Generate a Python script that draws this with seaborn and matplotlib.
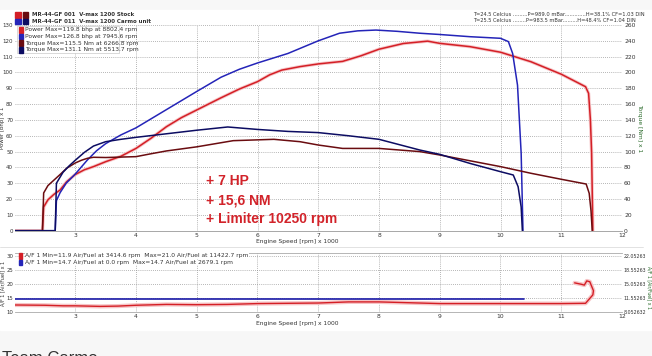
import pandas as pd
import numpy as np
import seaborn as sns
import matplotlib.pyplot as plt
from matplotlib.patches import Rectangle

# dyno runs (rpm x 1000)
stock_pw_rpm = [2.0, 2.46, 2.48, 2.55, 2.65, 2.75, 2.86, 3.0, 3.15, 3.3, 3.5, 3.75, 4.0, 4.25, 4.5, 4.75, 5.0, 5.4, 5.7, 6.0, 6.2, 6.4, 6.7, 7.0, 7.4, 7.7, 8.0, 8.4, 8.8, 9.0, 9.5, 10.0, 10.5, 11.0, 11.4, 11.45, 11.48, 11.5, 11.52]
stock_pw = [0, 0, 15, 19.5, 23, 25.7, 31, 35.5, 38.5, 40.5, 43.6, 47, 52, 58.5, 65.7, 71.5, 76.3, 84, 89.5, 94.2, 98.5, 101.5, 103.7, 105.4, 107, 110.5, 114.7, 118.3, 119.8, 118.4, 116.3, 112.8, 106.8, 98.9, 91, 86.8, 70, 49, 0]

carmo_pw_rpm = [2.0, 2.67, 2.69, 2.75, 2.85, 3.0, 3.2, 3.35, 3.5, 3.75, 4.0, 4.5, 5.0, 5.4, 5.7, 6.0, 6.5, 7.0, 7.35, 7.65, 7.95, 8.3, 8.67, 9.0, 9.5, 10.0, 10.13, 10.2, 10.28, 10.34, 10.37]
carmo_pw = [0, 0, 19, 24, 30, 35.8, 44.7, 50.5, 55, 60.5, 65, 76.5, 88, 97, 102, 106, 112, 120, 124.8, 126.3, 126.8, 126, 124.8, 124, 122.6, 121.6, 119.5, 112, 92, 49, 0]

stock_tq_rpm = [2.0, 2.46, 2.48, 2.55, 2.65, 2.75, 2.86, 3.0, 3.1, 3.2, 3.3, 3.5, 4.0, 4.23, 4.5, 5.0, 5.6, 6.27, 6.7, 7.0, 7.4, 8.0, 8.67, 9.0, 10.0, 10.5, 11.0, 11.41, 11.46, 11.49, 11.51]
stock_tq = [0, 0, 47.7, 57, 64, 71, 79, 85.6, 89, 91.5, 92.8, 92.5, 93.6, 97, 100.8, 106, 113.8, 115.5, 112.5, 108.3, 104, 104, 100, 95.7, 81, 72.6, 65, 59, 47.3, 25, 0]

carmo_tq_rpm = [2.0, 2.67, 2.69, 2.8, 2.9, 3.0, 3.15, 3.3, 3.5, 3.75, 4.0, 4.5, 5.0, 5.51, 6.0, 6.5, 7.0, 7.5, 8.0, 8.67, 9.0, 9.5, 10.0, 10.21, 10.29, 10.34, 10.36]
carmo_tq = [0, 0, 60, 74, 82, 89, 99, 107, 112.5, 115.5, 118, 122.5, 127, 131.1, 128, 125.5, 124, 120, 115.5, 102, 96.5, 85, 74.6, 70.4, 55.6, 30, 0]

stock_af_rpm = [2.0, 2.5, 2.8, 3.0, 3.41, 3.7, 4.0, 4.5, 5.0, 5.5, 6.0, 6.5, 7.0, 7.5, 8.0, 8.5, 9.0, 9.5, 10.0, 10.5, 11.0, 11.4, 11.52, 11.53, 11.47, 11.42, 11.38, 11.33, 11.22]
stock_af = [12.4, 12.3, 12.1, 12.1, 11.9, 12.0, 12.3, 12.6, 12.5, 12.6, 12.9, 13.0, 13.1, 13.5, 13.5, 13.2, 12.9, 12.9, 12.9, 12.9, 12.9, 13.0, 16.0, 17.5, 20.7, 21.0, 19.5, 19.8, 20.3]

carmo_af_rpm = [2.0, 10.38]
carmo_af = [14.7, 14.7]

legend_top = ["MR-44-GF 001  V-max 1200 Stock", "MR-44-GF 011  V-max 1200 Carmo unit"]
legend_main = ["Power Max=119.8 bhp at 8802.4 rpm", "Power Max=126.8 bhp at 7945.6 rpm",
               "Torque Max=115.5 Nm at 6266.8 rpm", "Torque Max=131.1 Nm at 5513.7 rpm"]
legend_af = ["A/F 1 Min=11.9 Air/Fuel at 3414.6 rpm  Max=21.0 Air/Fuel at 11422.7 rpm",
             "A/F 1 Min=14.7 Air/Fuel at 0.0 rpm  Max=14.7 Air/Fuel at 2679.1 rpm"]
weather = ["T=24.5 Celcius .........P=989.0 mBar.............H=38.1% CF=1.03 DIN",
           "T=25.5 Celcius ........P=983.5 mBar.........H=48.4% CF=1.04 DIN"]
notes = ["+ 7 HP", "+ 15,6 NM", "+ Limiter 10250 rpm"]
af_right_ticks = [8.05263, 11.55263, 15.05263, 18.55263, 22.05263]
af_right_labels = ["8.052632", "11.55263", "15.05263", "18.55263", "22.05263"]

RED, BLUE, DRED, NAVY = "#d41f26", "#2424b8", "#6a0c10", "#0c0c62"

sns.set_style("white")
plt.rcParams['font.family'] = ['DejaVu Sans']
W, H = 652, 356
fig = plt.figure(figsize=(W / 100, H / 100), dpi=100)
fig.patch.set_facecolor("#f7f7f7")
fig.patches.append(Rectangle((0, 26 / H), 1, 1 - 36 / H, transform=fig.transFigure, color="white", zorder=-5))


def fx(px):
    return px / W


def fy(py):
    return 1 - py / H


def style(ax):
    ax.set_facecolor("none")
    for s in ax.spines.values():
        s.set_visible(False)
    ax.grid(True, ls=(0, (1.2, 1.8)), color="#8a8a8a", lw=0.5)
    ax.tick_params(labelsize=4.3, length=0, pad=1.5, colors="#333")
    ax.set_xlabel("")
    ax.set_ylabel("")


small = 4.3

# ---- main panel
ax = fig.add_axes([fx(14.5), fy(230.7), fx(607.5), 205.7 / H])
ax.set_xlim(2, 12)
ax.set_ylim(0, 130)
ax2 = ax.twinx()
ax2.set_ylim(0, 260)
for r, v, c in [(stock_pw_rpm, stock_pw, RED), (carmo_pw_rpm, carmo_pw, BLUE)]:
    df = pd.DataFrame({"rpm": r, "v": v})
    if c == RED:
        sns.lineplot(data=df, x="rpm", y="v", ax=ax, color="#f6c8ca", lw=2.4, sort=False, estimator=None)
    sns.lineplot(data=df, x="rpm", y="v", ax=ax, color=c, lw=1.1, sort=False, estimator=None)
for r, v, c in [(stock_tq_rpm, stock_tq, DRED), (carmo_tq_rpm, carmo_tq, NAVY)]:
    df = pd.DataFrame({"rpm": r, "v": v})
    sns.lineplot(data=df, x="rpm", y="v", ax=ax2, color=c, lw=1.1, sort=False, estimator=None)
style(ax)
style(ax2)
ax2.grid(False)
ax.set_xticks(range(3, 13))
ax.set_yticks(range(0, 131, 10))
ax.tick_params(axis="y", labelsize=4.0, pad=1)
ax2.set_yticks(range(0, 261, 20))
ax.spines["bottom"].set_visible(True)
ax.spines["bottom"].set_color("#999")
ax.spines["bottom"].set_linewidth(0.6)

# ---- A/F panel
bx = fig.add_axes([fx(14.5), fy(311.7), fx(607.5), 58.8 / H])
bx.set_xlim(2, 12)
bx.set_ylim(10, 31)
bx2 = bx.twinx()
bx2.set_ylim(8.05263, 8.05263 + 21 * 0.7)
df = pd.DataFrame({"rpm": stock_af_rpm, "af": stock_af})
sns.lineplot(data=df, x="rpm", y="af", ax=bx, color="#f6c4c6", lw=3, sort=False, estimator=None)
sns.lineplot(data=df, x="rpm", y="af", ax=bx, color=RED, lw=1.0, sort=False, estimator=None)
sns.lineplot(x=carmo_af_rpm, y=carmo_af, ax=bx, color="#1a1aa8", lw=1.2, estimator=None)
style(bx)
style(bx2)
bx2.grid(False)
bx.set_xticks(range(3, 13))
bx.set_xticks(np.arange(2, 12.01, 0.2), minor=True)
bx.tick_params(axis="x", which="minor", length=1.2, color="#888")
bx.set_yticks([10, 15, 20, 25, 30])
bx.tick_params(axis="y", labelsize=3.9, pad=1)
bx2.set_yticks(af_right_ticks)
bx2.set_yticklabels(af_right_labels)
bx2.tick_params(labelsize=3.4, pad=1)
for sp in ["bottom", "top"]:
    bx.spines[sp].set_visible(True)
    bx.spines[sp].set_color("#aaa")
    bx.spines[sp].set_linewidth(0.6)

# ---- texts
fig.add_artist(plt.Line2D([0, fx(643)], [fy(246.5)] * 2, color="#ddd", lw=0.6))
for i, (t, cols) in enumerate(zip(legend_top, [(RED, DRED), (BLUE, NAVY)])):
    y = 15 + i * 6.2
    for j, c in enumerate(cols):
        fig.patches.append(Rectangle((fx(15 + j * 7.5), fy(y + 2.6)), fx(5.5), 5.2 / H, color=c, transform=fig.transFigure))
    fig.text(fx(32), fy(y), t, fontsize=4.0, va="center", color="#333", fontweight="bold")
for i, t in enumerate(weather):
    fig.text(fx(473), fy(15 + i * 6), t, fontsize=3.7, va="center", color="#333")

fig.patches.append(Rectangle((fx(16.5), fy(53)), fx(102), 27 / H, facecolor="white", edgecolor="#bbb", lw=0.4, transform=fig.transFigure, zorder=5))
for i, (t, c) in enumerate(zip(legend_main, [RED, BLUE, DRED, NAVY])):
    y = 30 + i * 6.6
    fig.patches.append(Rectangle((fx(18.5), fy(y + 2.8)), fx(4), 5.6 / H, color=c, transform=fig.transFigure, zorder=6))
    fig.text(fx(25), fy(y), t, fontsize=small, va="center", color="#333", zorder=7)

for i, (t, c) in enumerate(zip(legend_af, [RED, BLUE])):
    y = 256 + i * 6.5
    fig.patches.append(Rectangle((fx(19), fy(y + 2.8)), fx(3.5), 5.6 / H, color=c, transform=fig.transFigure, zorder=6))
    fig.text(fx(25), fy(y), t, fontsize=small, va="center", color="#333", zorder=7,
             bbox=dict(facecolor="white", edgecolor="none", pad=0.3))

for i, t in enumerate(notes):
    fig.text(fx(206), fy(185 + i * 19.2), t, fontsize=10, fontweight="bold", color="#d2232a",
             family="Liberation Sans", va="baseline")

fig.text(fx(338), fy(241.5), "Engine Speed [rpm] x 1000", fontsize=small, ha="right", va="center", color="#333")
fig.text(fx(338), fy(324), "Engine Speed [rpm] x 1000", fontsize=small, ha="right", va="center", color="#333")
fig.text(fx(2.5), fy(128), "Power [bhp] x 1", fontsize=3.9, rotation=90, ha="center", va="center", color="#333")
fig.text(fx(640), fy(128), "Torque [Nm] x 1", fontsize=small, rotation=270, ha="center", va="center", color="#2a6a2a")
fig.text(fx(2.5), fy(283), "A/F 1 [Air/Fuel] x 1", fontsize=3.5, rotation=90, ha="center", va="center", color="#333")
fig.text(fx(649), fy(287), "A/F 1 [Air/Fuel] x 1", fontsize=3.3, rotation=270, ha="center", va="center", color="#2a6a2a")
fig.text(fx(2), fy(351), "Team Carmo", fontsize=12, va="top", color="#333", family="Liberation Sans")

fig.savefig("out.png", dpi=100)
